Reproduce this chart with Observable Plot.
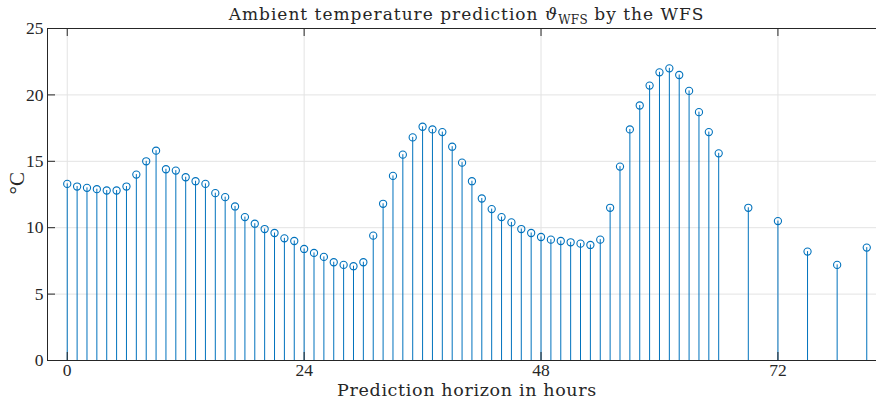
<!DOCTYPE html>
<html><head><meta charset="utf-8">
<script src="https://cdn.jsdelivr.net/npm/d3@7"></script>
<script src="https://cdn.jsdelivr.net/npm/@observablehq/plot@0.6"></script>
<style>
body{margin:0;background:#fff;}
#wrap{position:relative;width:876px;height:402px;overflow:hidden;font-family:"DejaVu Serif",serif;color:#262626;}
#title{position:absolute;top:4px;left:0;width:933px;text-align:center;font-size:17px;line-height:20px;white-space:nowrap;letter-spacing:1px;}
#title sub{font-size:12px;vertical-align:-4px;line-height:0;letter-spacing:0.3px;}
</style>
</head><body>
<div id="wrap"><div id="title">Ambient temperature prediction <i>ϑ</i><sub>WFS</sub> by the WFS</div></div>
<script>
const hours = [0,1,2,3,4,5,6,7,8,9,10,11,12,13,14,15,16,17,18,19,20,21,22,23,24,25,26,27,28,29,30,31,32,33,34,35,36,37,38,39,40,41,42,43,44,45,46,47,48,49,50,51,52,53,54,55,56,57,58,59,60,61,62,63,64,65,66,69,72,75,78,81];
const temps = [13.3,13.1,13.0,12.9,12.8,12.8,13.1,14.0,15.0,15.8,14.4,14.3,13.8,13.5,13.3,12.6,12.3,11.6,10.8,10.3,9.9,9.6,9.2,9.0,8.4,8.1,7.8,7.4,7.2,7.1,7.4,9.4,11.8,13.9,15.5,16.8,17.6,17.4,17.2,16.1,14.9,13.5,12.2,11.4,10.8,10.4,9.9,9.6,9.3,9.1,9.0,8.9,8.8,8.7,9.1,11.5,14.6,17.4,19.2,20.7,21.7,22.0,21.5,20.3,18.7,17.2,15.6,11.5,10.5,8.2,7.2,8.5];
const xTicks = [0,24,48,72];
const yTicks = [0,5,10,15,20,25];
const xLabel = "Prediction horizon in hours";
const yLabel = "°C";

const data = hours.map((h,i)=>({h, t: temps[i]}));
const axisColor = "#262626";
const gridColor = "#e3e3e3";
const stemColor = "#0072BD";

const chart = Plot.plot({
  width: 876, height: 402,
  marginLeft: 47, marginRight: -10, marginTop: 28, marginBottom: 42,
  x: {domain: [-2, 83]},
  y: {domain: [0, 25]},
  style: {fontFamily: "'Liberation Serif', serif", fontSize: "17.5px", color: axisColor, background: "transparent"},
  marks: [
    Plot.gridX(xTicks, {stroke: gridColor, strokeOpacity: 1}),
    Plot.gridY(yTicks.slice(1, -1), {stroke: gridColor, strokeOpacity: 1}),
    Plot.ruleX(data, {x: "h", y1: 0, y2: "t", stroke: stemColor, strokeWidth: 1}),
    Plot.dot(data, {x: "h", y: "t", r: 3.6, stroke: stemColor, fill: "none", strokeWidth: 1.1}),
    Plot.ruleY([0], {stroke: axisColor}),
    Plot.ruleY([25], {stroke: axisColor}),
    Plot.ruleX([-2], {stroke: axisColor}),
    Plot.tickX(xTicks, {x: d => d, insetTop: 324, stroke: axisColor}),
    Plot.tickX(xTicks, {x: d => d, insetBottom: 324, stroke: axisColor}),
    Plot.tickY(yTicks, {y: d => d, insetRight: 831, stroke: axisColor}),
    Plot.axisX(xTicks, {tickSize: 0, tickPadding: 3, label: null, fill: axisColor}),
    Plot.axisY(yTicks, {tickSize: 0, tickPadding: 4, label: null, fill: axisColor}),
    Plot.text([xLabel], {frameAnchor: "bottom", dy: 35, fill: axisColor, fontSize: 17.5, fontFamily: "'DejaVu Serif', serif"}),
    Plot.text([yLabel], {frameAnchor: "left", dx: -30, rotate: -90, fill: axisColor, fontSize: 21})
  ]
});
d3.select(chart).selectAll("text").filter(function() { return this.textContent === xLabel; }).style("letter-spacing", "0.65px");
document.getElementById("wrap").appendChild(chart);
</script>
</body></html>
